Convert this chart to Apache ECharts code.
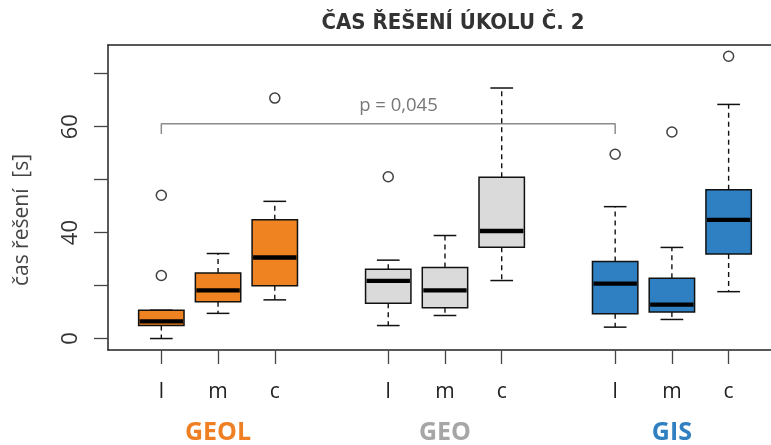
<!DOCTYPE html>
<html>
<head>
<meta charset="utf-8">
<script src="https://cdn.jsdelivr.net/npm/echarts@6/dist/echarts.min.js"></script>
<style>html,body{margin:0;padding:0;background:#fff}#c{width:771px;height:445px}</style>
</head>
<body>
<div id="c"></div>
<script>
// ---- data ----
const categories = ['l', 'm', 'c', 'l', 'm', 'c', 'l', 'm', 'c'];
const positions = [1, 2, 3, 5, 6, 7, 9, 10, 11];
const groups = ['GEOL', 'GEO', 'GIS'];
const groupPositions = [2, 6, 10];
const lowWhisker = [0, 9.5, 14.6, 4.9, 8.7, 21.9, 4.3, 7.2, 17.7];
const q1 = [4.9, 13.9, 19.9, 13.3, 11.6, 34.5, 9.4, 10.0, 31.9];
const median = [6.5, 18.2, 30.6, 21.8, 18.2, 40.6, 20.7, 12.8, 44.8];
const q3 = [10.7, 24.7, 44.9, 26.2, 26.8, 60.9, 29.1, 22.8, 56.2];
const highWhisker = [10.7, 32.1, 51.8, 29.6, 38.9, 94.6, 49.8, 34.4, 88.4];
const outlierPos = [1, 1, 3, 5, 9, 10, 11];
const outlierVal = [23.8, 54.1, 90.8, 61.1, 69.6, 78.0, 106.6];
const yTickValues = [0, 20, 40, 60, 80, 100];
const yTickLabels = ['0', '', '40', '', '60', ''];
const bracketX = [1, 1, 9, 9];
const bracketY = [77.2, 81.1, 81.1, 77.2];
const pText = 'p = 0,045';
const pTextPos = [5.18, 87.8];

// ---- styles ----
const groupFill = ['#EF8221', '#D9DAD9', '#2F80C2'];
const groupText = ['#EE7F22', '#A6A6A6', '#2F7FC1'];
const X_MIN = 0.06, X_MAX = 11.747;

const boxData = positions.map((p, i) => [p, lowWhisker[i], q1[i], median[i], q3[i], highWhisker[i], Math.floor(i / 3)]);

function renderBox(params, api) {
  const x = api.value(0);
  const lo = api.coord([x, api.value(1)]);
  const b1 = api.coord([x, api.value(2)]);
  const md = api.coord([x, api.value(3)]);
  const b3 = api.coord([x, api.value(4)]);
  const hi = api.coord([x, api.value(5)]);
  const halfBox = api.size([0.4, 0])[0];
  const halfCap = api.size([0.2, 0])[0];
  const cx = lo[0];
  const fill = groupFill[api.value(6)];
  const dash = { stroke: '#111', lineWidth: 1.4, lineDash: [5, 4] };
  const solid = { stroke: '#111', lineWidth: 1.5 };
  return {
    type: 'group',
    children: [
      { type: 'line', shape: { x1: cx, y1: b1[1], x2: cx, y2: lo[1] }, style: dash },
      { type: 'line', shape: { x1: cx, y1: b3[1], x2: cx, y2: hi[1] }, style: dash },
      { type: 'line', shape: { x1: cx - halfCap, y1: lo[1], x2: cx + halfCap, y2: lo[1] }, style: solid },
      { type: 'line', shape: { x1: cx - halfCap, y1: hi[1], x2: cx + halfCap, y2: hi[1] }, style: solid },
      { type: 'rect', shape: { x: cx - halfBox, y: b3[1], width: halfBox * 2, height: b1[1] - b3[1] },
        style: { fill: fill, stroke: '#111', lineWidth: 1.5 } },
      { type: 'line', shape: { x1: cx - halfBox + 1, y1: md[1], x2: cx + halfBox - 1, y2: md[1] },
        style: { stroke: '#000', lineWidth: 4.3 } }
    ]
  };
}

const frameLine = { show: true, onZero: false, lineStyle: { color: '#222', width: 1.5 } };

const chart = echarts.init(document.getElementById('c'), null, { renderer: 'canvas' });
chart.setOption({
  animation: false,
  backgroundColor: '#fff',
  title: {
    text: 'ČAS ŘEŠENÍ ÚKOLU Č. 2',
    left: 448, top: 7, textAlign: 'center',
    textStyle: { fontFamily: '"Liberation Sans Narrow", "DejaVu Sans Condensed", sans-serif', fontWeight: 'bold', fontSize: 22, color: '#333' }
  },
  grid: { left: 108, top: 45, right: 0, height: 305 },
  xAxis: [{
    type: 'value', min: X_MIN, max: X_MAX,
    axisLine: frameLine,
    splitLine: { show: false },
    axisTick: { show: true, customValues: positions, length: 14, lineStyle: { color: '#444', width: 1.3 } },
    axisLabel: {
      customValues: positions, margin: 32,
      formatter: v => categories[positions.indexOf(v)] || '',
      fontFamily: '"Open Sans", sans-serif', fontSize: 21, color: '#222'
    }
  }, {
    type: 'value', min: X_MIN, max: X_MAX, position: 'bottom',
    axisLine: { show: false, onZero: false }, splitLine: { show: false }, axisTick: { show: false },
    axisLabel: {
      customValues: groupPositions, margin: 70,
      formatter: v => { const i = groupPositions.indexOf(v); return i < 0 ? '' : '{g' + i + '|' + groups[i] + '}'; },
      rich: {
        g0: { color: groupText[0], fontSize: 25, fontWeight: 'bold', fontFamily: '"Open Sans", sans-serif' },
        g1: { color: groupText[1], fontSize: 25, fontWeight: 'bold', fontFamily: '"Open Sans", sans-serif' },
        g2: { color: groupText[2], fontSize: 25, fontWeight: 'bold', fontFamily: '"Open Sans", sans-serif' }
      }
    }
  }, {
    type: 'value', min: X_MIN, max: X_MAX, position: 'top',
    axisLine: frameLine, splitLine: { show: false }, axisTick: { show: false }, axisLabel: { show: false }
  }],
  yAxis: {
    type: 'value', min: -4.33, max: 110.84,
    axisLine: frameLine,
    splitLine: { show: false },
    axisTick: { show: true, customValues: yTickValues, length: 14, lineStyle: { color: '#444', width: 1.3 } },
    axisLabel: {
      customValues: yTickValues, rotate: 90, margin: 26,
      formatter: v => yTickLabels[yTickValues.indexOf(v)] || '',
      fontFamily: '"Open Sans", sans-serif', fontSize: 22, color: '#333'
    }
  },
  graphic: [{
    type: 'text', x: 22, y: 220, rotation: Math.PI / 2,
    style: { text: 'čas řešení  [s]', align: 'center', verticalAlign: 'middle',
      font: '21px "Open Sans", sans-serif', fill: '#444' }
  }],
  series: [{
    type: 'custom', renderItem: renderBox, data: boxData, encode: { x: 0, y: [1, 5] }, z: 3
  }, {
    type: 'scatter', data: outlierPos.map((p, i) => [p, outlierVal[i]]),
    symbol: 'circle', symbolSize: 10,
    itemStyle: { color: 'rgba(0,0,0,0)', borderColor: '#111', borderWidth: 1.5 }, z: 4
  }, {
    type: 'line', data: bracketX.map((x, i) => [x, bracketY[i]]),
    symbol: 'none', lineStyle: { color: '#8c8c8c', width: 1.5 }, z: 2
  }, {
    type: 'scatter', data: [pTextPos], symbolSize: 0,
    label: { show: true, position: 'inside', formatter: pText,
      fontFamily: '"Open Sans", sans-serif', fontSize: 18.5, color: '#555' }
  }]
});
</script>
</body>
</html>
